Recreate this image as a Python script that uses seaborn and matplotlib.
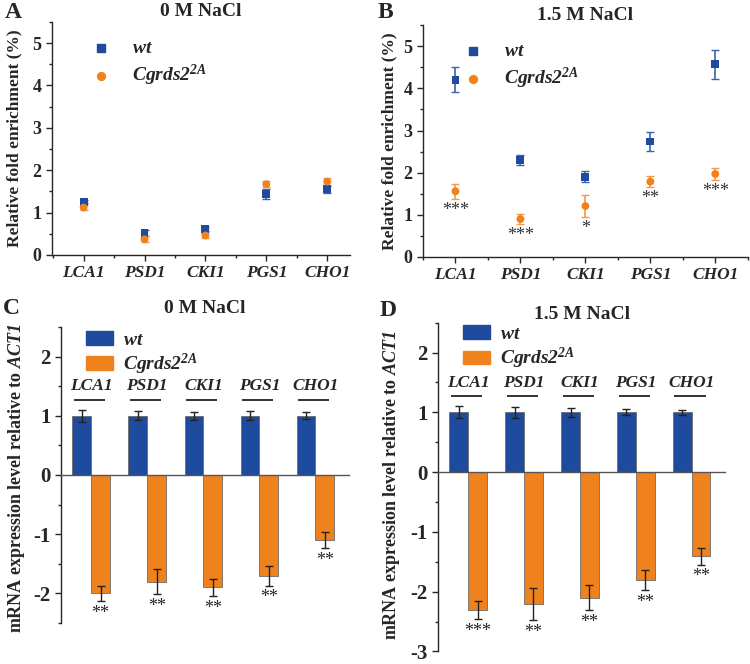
import numpy as np
import pandas as pd
import matplotlib
matplotlib.use("Agg")
import matplotlib.pyplot as plt
import seaborn as sns
from matplotlib.ticker import MultipleLocator, FixedLocator

genes = ["LCA1", "PSD1", "CKI1", "PGS1", "CHO1"]
strains = ["wt", "Cgrds2"]

# A: ChIP enrichment, 0 M NaCl
chip0_wt = [1.26, 0.51, 0.62, 1.44, 1.55]
chip0_wt_err = [0.04, 0.07, 0.05, 0.12, 0.08]
chip0_mut = [1.12, 0.37, 0.46, 1.67, 1.73]
chip0_mut_err = [0.07, 0.07, 0.07, 0.07, 0.08]

# B: ChIP enrichment, 1.5 M NaCl
chip15_wt = [4.21, 2.31, 1.90, 2.74, 4.57]
chip15_wt_err = [0.30, 0.12, 0.13, 0.22, 0.35]
chip15_mut = [1.56, 0.90, 1.21, 1.79, 1.97]
chip15_mut_err = [0.18, 0.12, 0.26, 0.13, 0.14]
chip15_stars = ["***", "***", "*", "**", "***"]

# C: mRNA, 0 M NaCl
mrna0_wt = [1.0, 1.0, 1.0, 1.0, 1.0]
mrna0_wt_err = [0.10, 0.08, 0.07, 0.08, 0.06]
mrna0_mut = [-2.0, -1.8, -1.9, -1.7, -1.1]
mrna0_mut_err = [0.13, 0.21, 0.15, 0.17, 0.14]
mrna0_stars = ["**", "**", "**", "**", "**"]

# D: mRNA, 1.5 M NaCl
mrna15_wt = [1.0, 1.0, 1.0, 1.0, 1.0]
mrna15_wt_err = [0.10, 0.09, 0.08, 0.05, 0.04]
mrna15_mut = [-2.31, -2.21, -2.10, -1.81, -1.41]
mrna15_mut_err = [0.15, 0.27, 0.21, 0.17, 0.14]
mrna15_stars = ["***", "**", "**", "**", "**"]

blue = "#1f4b9e"
orange = "#f0821e"
mut_label = r"$\mathbfit{Cgrds2}^{\mathbfit{2A}}$"

sns.set_style("ticks")
plt.rcParams["font.family"] = ["Liberation Serif", "DejaVu Serif"]
plt.rcParams["font.weight"] = "bold"
plt.rcParams["axes.unicode_minus"] = False
plt.rcParams["mathtext.fontset"] = "custom"
plt.rcParams["mathtext.rm"] = "Liberation Serif:bold"
plt.rcParams["mathtext.it"] = "Liberation Serif:italic:bold"
plt.rcParams["mathtext.bf"] = "Liberation Serif:bold"
plt.rcParams["mathtext.bfit"] = "Liberation Serif:italic:bold"
plt.rcParams["axes.linewidth"] = 1.0

fig = plt.figure(figsize=(7.5, 6.64), dpi=100)
axA = fig.add_axes([0.0693, 0.616, 0.397, 0.351])
axB = fig.add_axes([0.564, 0.613, 0.433, 0.349])
axC = fig.add_axes([0.0813, 0.0617, 0.384, 0.446])
axD = fig.add_axes([0.584, 0.019, 0.383, 0.495])


def chip_panel(ax, wt, wt_err, mut, mut_err, title, stars=None, xlim=(-0.5, 4.45), label_x=-0.1):
    df = pd.DataFrame({
        "gene": genes * 2,
        "value": wt + mut,
        "strain": ["wt"] * 5 + ["Cgrds2"] * 5,
    })
    x = np.arange(len(genes))
    ax.errorbar(x, wt, yerr=wt_err, fmt="none", ecolor="#3d63ad", capsize=3, elinewidth=1.2, zorder=2)
    ax.errorbar(x, mut, yerr=mut_err, fmt="none", ecolor="#f29a4a", capsize=3, elinewidth=1.2, zorder=2)
    sns.scatterplot(data=df, x="gene", y="value", hue="strain", style="strain",
                    palette={"wt": blue, "Cgrds2": orange},
                    markers={"wt": "s", "Cgrds2": "o"}, s=32, edgecolor="none",
                    ax=ax, zorder=3, legend=False)
    if stars:
        for i, st in enumerate(stars):
            ax.text(i, mut[i] - mut_err[i] - 0.08, st, ha="center", va="top",
                    fontsize=13, fontweight="normal", color="#333333")
    ax.set_ylim(0, 5.5)
    ax.set_xlim(*xlim)
    ax.yaxis.set_major_locator(MultipleLocator(1))
    ax.yaxis.set_minor_locator(MultipleLocator(0.5))
    ax.xaxis.set_minor_locator(FixedLocator(np.arange(-0.5, 5, 1)))
    ax.set_xticks(x)
    ax.set_xticklabels(genes, fontstyle="italic", fontweight="bold", fontsize=12.5)
    ax.tick_params(axis="y", labelsize=13)
    plt.setp(ax.get_yticklabels(), fontweight="bold")
    ax.tick_params(which="major", length=4, width=1)
    ax.tick_params(which="minor", length=2.5, width=1)
    ax.set_xlabel("")
    ax.set_ylabel("Relative fold enrichment (%)", fontsize=12.5, fontweight="bold")
    ax.yaxis.set_label_coords(label_x, 0.5)
    ax.set_title(title, fontsize=14, fontweight="bold", pad=4)
    sns.despine(ax=ax)
    # legend
    hw = ax.scatter([], [], marker="s", color=blue, s=32)
    hm = ax.scatter([], [], marker="o", color=orange, s=32)
    ax.legend([hw, hm], [r"$\mathbfit{wt}$", mut_label], loc="upper left",
              bbox_to_anchor=(0.04, 1.0), frameon=False, fontsize=14,
              handletextpad=0.6, labelspacing=0.3)


def mrna_panel(ax, wt, wt_err, mut, mut_err, stars, title, ylim, title_pad, label_xy):
    df = pd.DataFrame({
        "gene": genes * 2,
        "value": wt + mut,
        "strain": ["wt"] * 5 + ["Cgrds2"] * 5,
    })
    sns.barplot(data=df, x="gene", y="value", hue="strain",
                palette={"wt": blue, "Cgrds2": orange}, width=0.67,
                errorbar=None, saturation=1, edgecolor="#6a6a6a", linewidth=0.6,
                ax=ax, legend=False)
    for cont, vals, errs in zip(ax.containers, [wt, mut], [wt_err, mut_err]):
        xs = [p.get_x() + p.get_width() / 2 for p in cont.patches]
        ax.errorbar(xs, vals, yerr=errs, fmt="none", ecolor="#222222",
                    capsize=3, elinewidth=1, capthick=1, zorder=4)
        if vals is mut:
            for xx, v, e, st in zip(xs, vals, errs, stars):
                ax.text(xx, v - e - 0.06, st, ha="center", va="top", fontsize=13,
                        fontweight="normal", color="#222222")
    for i, g in enumerate(genes):
        ax.text(i, 1.36, g, ha="center", va="bottom", fontsize=12.5,
                fontstyle="italic", fontweight="bold")
        ax.hlines(1.27, i - 0.31, i + 0.25, color="#222222", lw=1.3)
    ax.set_ylim(*ylim)
    ax.set_xlim(-0.54, 4.6)
    ax.yaxis.set_major_locator(MultipleLocator(1))
    ax.yaxis.set_minor_locator(MultipleLocator(0.5))
    ax.tick_params(axis="y", labelsize=15, which="major", length=4, width=1)
    ax.tick_params(axis="y", which="minor", length=2.5, width=1)
    plt.setp(ax.get_yticklabels(), fontweight="bold")
    ax.set_xticks([])
    ax.set_xlabel("")
    ax.spines["top"].set_visible(False)
    ax.spines["right"].set_visible(False)
    ax.spines["bottom"].set_position(("data", 0))
    ax.spines["bottom"].set_color("#555555")
    ax.set_ylabel(r"mRNA expression level relative to $\mathbfit{ACT1}$",
                  fontsize=13, fontweight="bold")
    ax.yaxis.set_label_coords(*label_xy)
    ax.set_title(title, fontsize=14, fontweight="bold", pad=title_pad)
    hw = plt.Rectangle((0, 0), 1, 1, color=blue)
    hm = plt.Rectangle((0, 0), 1, 1, color=orange)
    ax.legend([hw, hm], [r"$\mathbfit{wt}$", mut_label], loc="upper left",
              bbox_to_anchor=(0.025, 1.045), frameon=False, fontsize=14,
              handlelength=1.4, handleheight=0.7, handletextpad=0.5, labelspacing=0.15)


chip_panel(axA, chip0_wt, chip0_wt_err, chip0_mut, chip0_mut_err, "0 M NaCl",
           xlim=(-0.52, 4.37), label_x=-0.1)
chip_panel(axB, chip15_wt, chip15_wt_err, chip15_mut, chip15_mut_err, "1.5 M NaCl",
           stars=chip15_stars, xlim=(-0.5, 4.5), label_x=-0.08)
mrna_panel(axC, mrna0_wt, mrna0_wt_err, mrna0_mut, mrna0_mut_err, mrna0_stars,
           "0 M NaCl", (-2.5, 2.5), 10, (-0.118, 0.49))
mrna_panel(axD, mrna15_wt, mrna15_wt_err, mrna15_mut, mrna15_mut_err, mrna15_stars,
           "1.5 M NaCl", (-3, 2.5), 3, (-0.125, 0.505))

for lab, px, py in [("A", 5, 13), ("B", 378, 13), ("C", 3, 308), ("D", 380, 310)]:
    fig.text(px / 750, 1 - py / 664, lab, fontsize=17, fontweight="bold",
             ha="left", va="center")

fig.savefig("out.png", dpi=100)
